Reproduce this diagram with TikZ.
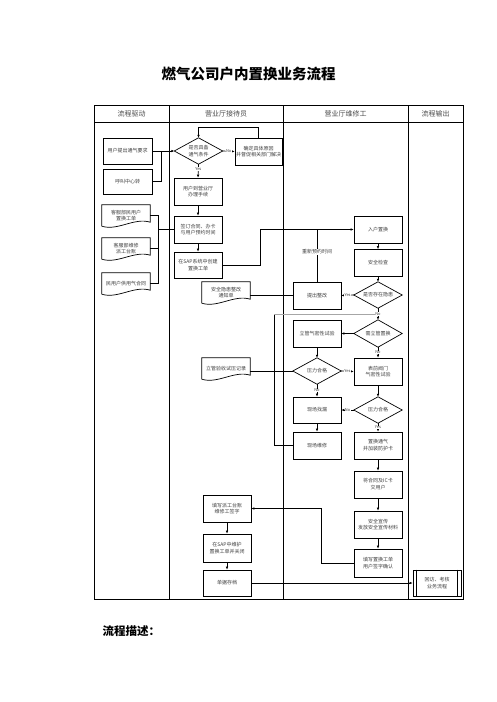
\documentclass[tikz,border=0pt]{standalone}
\usepackage{fontspec}
\setmainfont{Noto Sans CJK SC}
\usetikzlibrary{arrows.meta}
\newcommand{\fsb}{\fontsize{5}{6.8}\selectfont}
\begin{document}
\begin{tikzpicture}[x=1pt,y=-1pt,
 box/.style={draw, line width=0.7pt, minimum width=48pt, minimum height=27pt, inner sep=0pt, align=center, font=\fsb, text=black!75},
 dia/.style={minimum width=48pt, minimum height=26pt, inner sep=0pt, align=center, font=\fsb, text=black!75},
 doc/.style={minimum width=48pt, minimum height=21pt, inner sep=0pt, align=center, font=\fsb, text=black!75},
 lbl/.style={font=\fontsize{4}{5}\selectfont, fill=white, inner sep=0.3pt, text=black!75},
 ln/.style={line width=0.7pt},
 ar/.style={line width=0.7pt, -{Latex[length=3pt,width=2.6pt]}},
 tblline/.style={line width=0.8pt},
 hdr/.style={font=\fontsize{7}{8}\selectfont, text=black!70}
]
\useasboundingbox[fill=white] (0,0) rectangle (496,702);

% title
\node[font=\fontsize{14.5}{16}\selectfont\bfseries] (title) at (248.5,74) {燃气公司户内置换业务流程};

% table
\draw[tblline] (94,105) rectangle (463,599);
\draw[tblline] (94,122.5) -- (463,122.5);
\draw[tblline] (169,105) -- (169,599);
\draw[tblline] (283,105) -- (283,599);
\draw[tblline] (408,105) -- (408,599);
\node[hdr] (h1) at (131.5,114) {流程驱动};
\node[hdr] (h2) at (226,114) {营业厅接待员};
\node[hdr] (h3) at (345.5,114) {营业厅维修工};
\node[hdr] (h4) at (435.5,114) {流程输出};

% footer
\node[font=\fontsize{11.5}{13}\selectfont\bfseries, anchor=west] (desc) at (99,631) {流程描述：};

% left column
\node[box, minimum width=49pt, minimum height=26pt] (a1) at (127.5,151) {用户提出通气要求};
\node[box, minimum width=49pt, minimum height=25pt] (a2) at (127.5,181.5) {呼叫中心转};
\node[doc] (d1) at (126,215.5) {客服部民用户\\置换工单};
\node[doc] (d2) at (126,248.5) {客服部维修\\派工台账};
\node[doc] (d3) at (126,283.5) {民用户供用气合同};

% middle column
\node[dia] (q1) at (198.5,151) {是否具备\\通气条件};
\node[box, minimum width=47pt] (b0) at (258.5,151.5) {确定具体原因\\并督促相关部门解决};
\node[box] (b1) at (198,191.5) {用户到营业厅\\办理手续};
\node[box] (b2) at (198,229.5) {签订合同、办卡\\与用户预约时间};
\node[box, minimum height=26pt] (b3) at (198,265) {在SAP系统中创建\\置换工单};
\node[doc] (d4) at (226,292.5) {安全隐患整改\\通知单};
\node[doc] (d5) at (226,368.5) {立管验收试压记录};
\node[box] (b4) at (227,508.5) {填写派工台账\\维修工签字};
\node[box, minimum height=28pt] (b5) at (227,548) {在SAP中维护\\置换工单并关闭};
\node[box, minimum height=26pt] (b6) at (227,583) {单据存档};

% right column
\node[box] (c1) at (378,229.5) {入户置换};
\node[box] (c2) at (378,263) {安全检查};
\node[dia] (q2) at (378,295) {是否存在隐患};
\node[box] (c3) at (317,295.5) {提出整改};
\node[dia, minimum height=27pt] (q3) at (378,333.5) {需立管置换};
\node[box] (c4) at (317,333.5) {立管气密性试验};
\node[dia] (q4) at (317,371) {压力合格};
\node[box] (c5) at (378,371.5) {表前阀门\\气密性试验};
\node[box, minimum height=26pt] (c6) at (317,410) {现场找漏};
\node[dia] (q5) at (378,410) {压力合格};
\node[box] (c7) at (317,445.5) {现场维修};
\node[box] (c8) at (378,445.5) {置换通气\\并加装防护卡};
\node[box] (c9) at (378,484.5) {将合同及IC卡\\交用户};
\node[box] (c10) at (378,524.5) {安全宣传\\发放安全宣传材料};
\node[box, minimum height=28pt] (c11) at (378,563) {填写置换工单\\用户签字确认};

% output column
\node[box, minimum height=26pt] (o1) at (437,583) {回访、考核\\业务流程};
\draw[line width=0.6pt] ([xshift=4pt]o1.north west) -- ([xshift=4pt]o1.south west);
\draw[line width=0.6pt] ([xshift=-4pt]o1.north east) -- ([xshift=-4pt]o1.south east);

% diamonds
\foreach \n in {q1,q2,q3,q4,q5}
  \draw[line width=0.7pt] (\n.north) -- (\n.east) -- (\n.south) -- (\n.west) -- cycle;
% documents
\foreach \n in {d1,d2,d3,d4,d5}
  \draw[line width=0.7pt] (\n.south west) -- (\n.north west) -- (\n.north east) -- ([yshift=4pt]\n.south east)
    .. controls +(-16,-5) and +(16,5) .. (\n.south west);

% connectors
\coordinate (ja) at (161.7,151);
\draw[ar] (a1.east) -- (q1.west);
\draw[ln] (a2.east) -| (ja);
\draw[ar] (q1.east) -- node[lbl]{No} (b0.west);
\draw[ar] (q1.south) -- node[lbl, pos=0.35]{Yes} (b1.north);
\coordinate (jt) at (258.5,127);
\draw[ar] (b0.north) -- (jt) -| (q1.north);
\draw[ar] (b1.south) -- (b2.north);
\draw[ar] (b2.south) -- (b3.north);

\coordinate (bx) at (158,229.5);
\draw[ln] (d1.east) -| (bx);
\draw[ln] (d3.east) -| (bx);
\draw[ln] (d2.east) -- (d2.east -| bx);
\draw[ln] (bx) -- (b2.west);

\coordinate (jb) at (260,265);
\draw[ar] (b3.east) -- (jb) |- (c1.west);
\draw[ln] (c3.north) -- node[lbl, pos=0.57, font=\fontsize{5}{6}\selectfont]{重新预约时间} (c3.north |- c1.west);

\draw[ln] (c3.west) -- (c3.west -| d4.east);
\draw[ln] (q4.west) -- (q4.west -| d5.east);

\draw[ar] (c1.south) -- (c2.north);
\draw[ar] (c2.south) -- (q2.north);
\draw[ar] (q2.west) -- node[lbl]{Yes} (c3.east);

\coordinate (jn) at (378,314);
\coordinate (jl) at (274,314);
\draw[ln] (c7.west) -| (jl);
\draw[line width=0.7pt, black!35] (jl) -- (jn);
\draw[ar] (q2.south) -- node[lbl]{No} (q3.north);

\draw[ar] (q3.west) -- (c4.east);
\draw[ar] (q3.south) -- node[lbl]{No} (c5.north);
\draw[ar] (c4.south) -- (q4.north);
\draw[ar] (q4.east) -- node[lbl]{Yes} (c5.west);
\draw[ar] (q4.south) -- node[lbl]{No} (c6.north);
\draw[ar] (c5.south) -- (q5.north);
\draw[ar] (q5.west) -- node[lbl]{No} (c6.east);
\draw[ar] (q5.south) -- node[lbl]{Yes} (c8.north);
\draw[ar] (c6.south) -- (c7.north);
\draw[ar] (c8.south) -- (c9.north);
\draw[ar] (c9.south) -- (c10.north);
\draw[ar] (c10.south) -- (c11.north);

\coordinate (jr) at (321.7,563);
\draw[ar] (c11.west) -- (jr) |- (b4.east);
\draw[ar] (b4.south) -- (b5.north);
\draw[ar] (b5.south) -- (b6.north);
\draw[ar] (b6.east) -- (o1.west);
\end{tikzpicture}
\end{document}
